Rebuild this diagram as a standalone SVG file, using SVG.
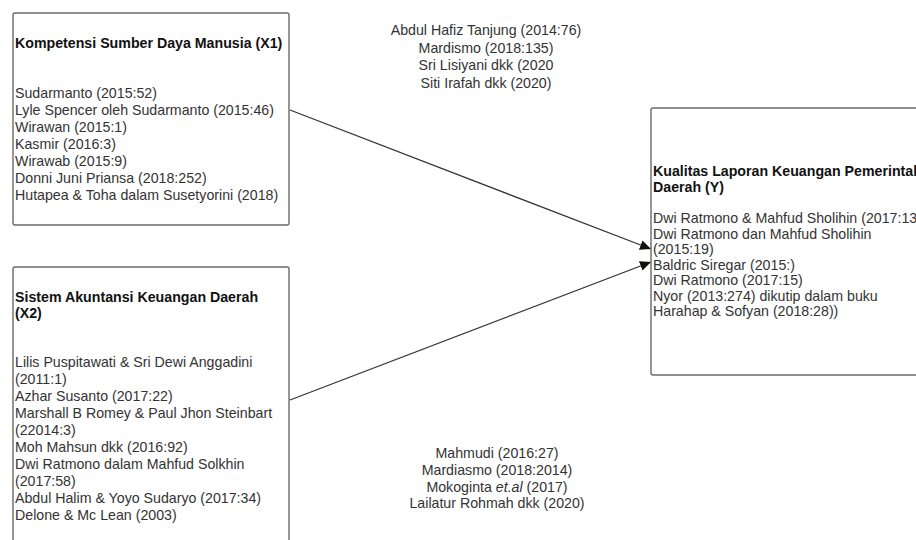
<svg xmlns="http://www.w3.org/2000/svg" width="916" height="540" viewBox="0 0 916 540">
<defs>
<style>
.box{fill:#fff;stroke:#6a6a6a;stroke-width:1.4}
text{font-family:"Liberation Sans",Arial,sans-serif;font-size:14.2px;fill:#333}
.t{font-weight:bold;fill:#111}
.mid{text-anchor:middle}
.edge{stroke:#333;stroke-width:1.3;fill:none}
</style>
<marker id="ah" markerWidth="11" markerHeight="10" refX="11" refY="5" orient="auto" markerUnits="userSpaceOnUse">
<path d="M0,0 L11,5 L0,10 Z" fill="#111"/>
</marker>
</defs>
<rect width="916" height="540" fill="#fff"/>
<g id="edges">
<line class="edge" x1="290" y1="110" x2="651" y2="249" marker-end="url(#ah)"/>
<line class="edge" x1="290" y1="400" x2="651" y2="262" marker-end="url(#ah)"/>
</g>
<g id="node-x1">
<rect class="box" x="13" y="13" width="276" height="212" rx="2"/>
<text class="t" x="15" y="48">Kompetensi Sumber Daya Manusia (X1)</text>
<text x="15" y="98">Sudarmanto (2015:52)</text>
<text x="15" y="115">Lyle Spencer oleh Sudarmanto (2015:46)</text>
<text x="15" y="132">Wirawan (2015:1)</text>
<text x="15" y="149">Kasmir (2016:3)</text>
<text x="15" y="166">Wirawab (2015:9)</text>
<text x="15" y="183">Donni Juni Priansa (2018:252)</text>
<text x="15" y="200">Hutapea &amp; Toha dalam Susetyorini (2018)</text>
</g>
<g id="node-x2">
<rect class="box" x="13" y="267" width="276" height="300" rx="2"/>
<text class="t" x="15" y="302">Sistem Akuntansi Keuangan Daerah</text>
<text class="t" x="15" y="318">(X2)</text>
<text x="15" y="367">Lilis Puspitawati &amp; Sri Dewi Anggadini</text>
<text x="15" y="384">(2011:1)</text>
<text x="15" y="401">Azhar Susanto (2017:22)</text>
<text x="15" y="418">Marshall B Romey &amp; Paul Jhon Steinbart</text>
<text x="15" y="435">(22014:3)</text>
<text x="15" y="452">Moh Mahsun dkk (2016:92)</text>
<text x="15" y="469">Dwi Ratmono dalam Mahfud Solkhin</text>
<text x="15" y="486">(2017:58)</text>
<text x="15" y="503">Abdul Halim &amp; Yoyo Sudaryo (2017:34)</text>
<text x="15" y="520">Delone &amp; Mc Lean (2003)</text>
</g>
<g id="node-y">
<rect class="box" x="651" y="108" width="290" height="267" rx="2"/>
<text class="t" x="653" y="176">Kualitas Laporan Keuangan Pemerintah</text>
<text class="t" x="653" y="192">Daerah (Y)</text>
<text x="653" y="223">Dwi Ratmono &amp; Mahfud Sholihin (2017:13</text>
<text x="653" y="238.5">Dwi Ratmono dan Mahfud Sholihin</text>
<text x="653" y="254">(2015:19)</text>
<text x="653" y="269.5">Baldric Siregar (2015:)</text>
<text x="653" y="285">Dwi Ratmono (2017:15)</text>
<text x="653" y="300.5">Nyor (2013:274) dikutip dalam buku</text>
<text x="653" y="316">Harahap &amp; Sofyan (2018:28))</text>
</g>
<g id="label-top">
<text class="mid" x="486" y="35">Abdul Hafiz Tanjung (2014:76)</text>
<text class="mid" x="486" y="52.5">Mardismo (2018:135)</text>
<text class="mid" x="486" y="70">Sri Lisiyani dkk (2020</text>
<text class="mid" x="486" y="87.5">Siti Irafah dkk (2020)</text>
</g>
<g id="label-bottom">
<text class="mid" x="497" y="458">Mahmudi (2016:27)</text>
<text class="mid" x="497" y="475">Mardiasmo (2018:2014)</text>
<text class="mid" x="497" y="492">Mokoginta <tspan font-style="italic">et.al</tspan> (2017)</text>
<text class="mid" x="497" y="508">Lailatur Rohmah dkk (2020)</text>
</g>
</svg>
